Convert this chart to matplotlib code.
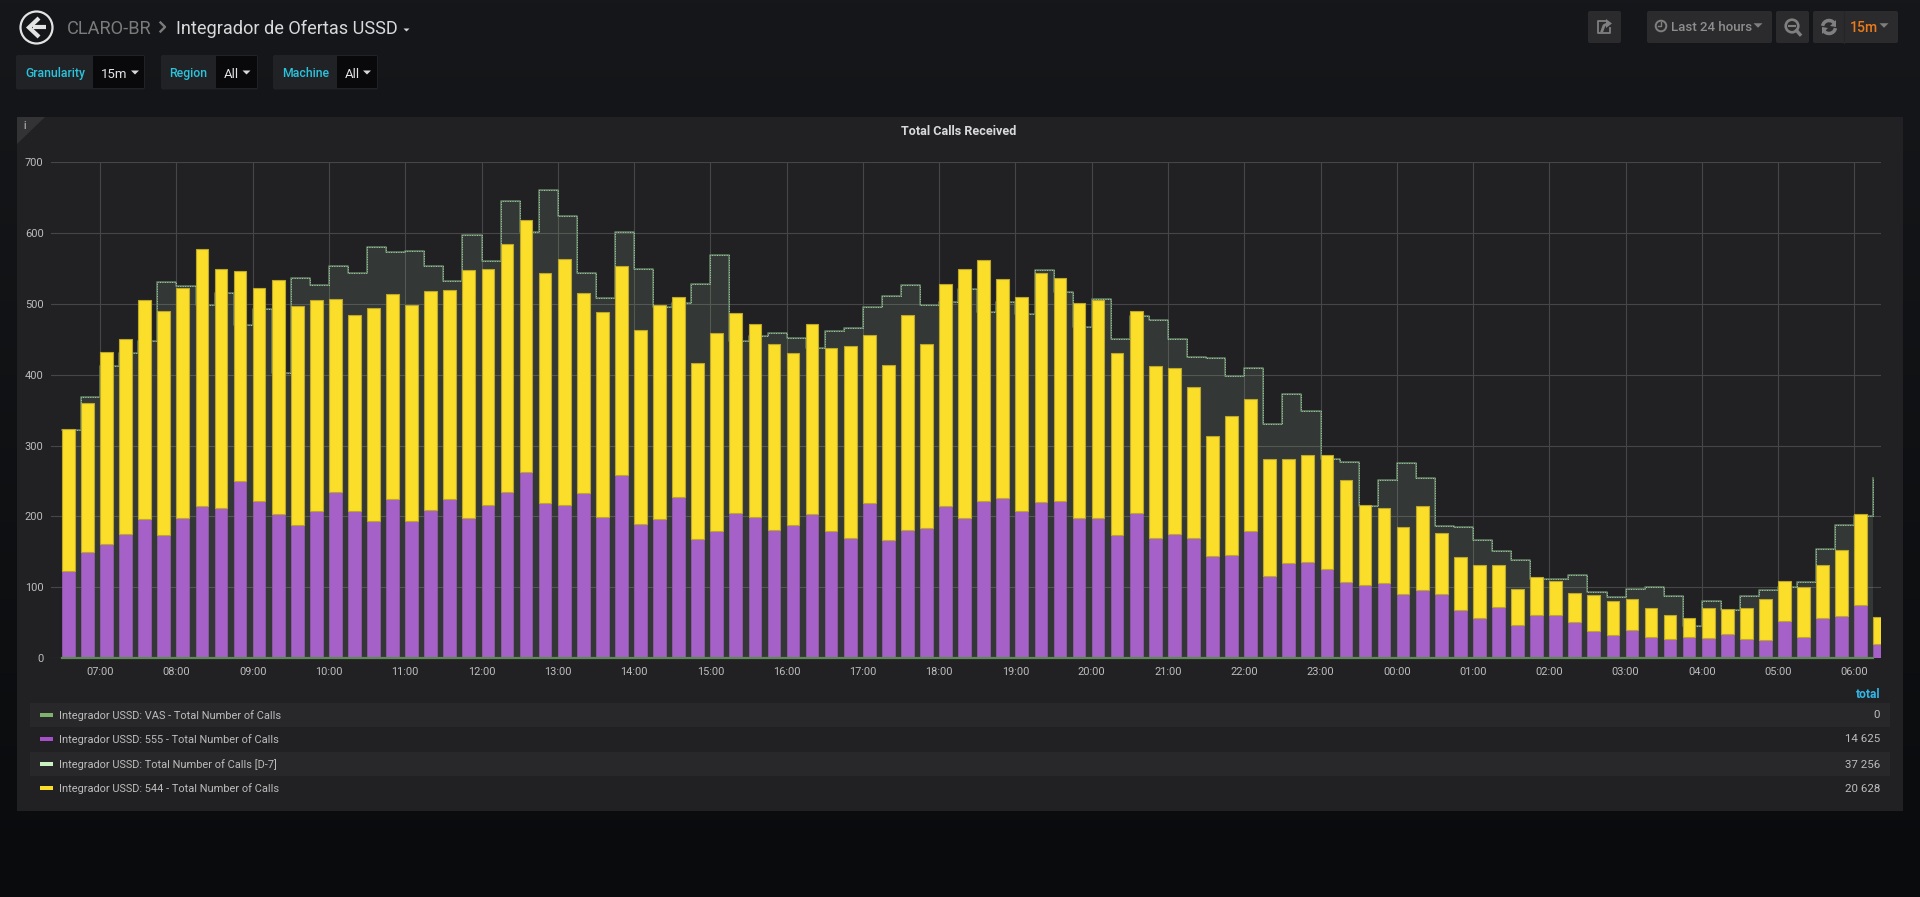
#!/usr/bin/env python

import numpy as np
import matplotlib
matplotlib.use("Agg")
import matplotlib.pyplot as plt
from matplotlib.patches import Rectangle, Circle, Polygon, FancyBboxPatch, Arc

# values, one per 15 minutes from 06:30
calls_555 = [123,150,161,175,196,173,198,215,212,250,222,203,188,207,234,207,193,225,194,209,225,198,216,235,
             262,219,216,233,199,259,189,196,228,168,179,205,199,181,188,203,179,170,219,166,181,184,214,198,
             222,226,207,220,221,198,198,173,205,170,175,170,144,146,179,116,134,135,125,108,103,106,91,96,
             91,68,57,72,46,61,61,51,38,33,39,30,27,29,28,34,27,26,52,30,57,59,75,20]
calls_544 = [201,210,271,275,310,317,325,362,337,297,301,330,309,298,273,277,301,289,304,309,294,350,333,349,
             356,324,347,283,289,294,274,302,281,248,280,282,273,263,243,268,258,271,237,247,303,259,314,351,
             340,309,302,323,315,303,307,257,285,242,234,212,170,196,186,165,147,152,161,144,113,106,94,119,
             86,75,75,60,51,53,48,41,51,47,45,40,34,28,43,35,43,58,57,70,75,93,129,38]
calls_d7 = [322,368,412,430,447,531,525,498,515,470,493,403,537,526,553,543,580,573,575,553,532,597,560,645,
            601,661,624,544,508,602,549,495,501,528,569,448,454,459,452,438,462,466,496,511,526,499,503,521,
            488,502,486,548,517,468,507,451,483,477,451,425,423,398,409,330,373,349,281,277,215,251,276,254,
            186,185,167,151,138,111,111,117,93,86,97,100,87,45,80,68,87,96,100,108,154,188,200,254]
calls_vas = [0] * 96

hour_ticks = list(range(7, 31))
hour_labels = ["07:00","08:00","09:00","10:00","11:00","12:00","13:00","14:00","15:00","16:00","17:00","18:00",
               "19:00","20:00","21:00","22:00","23:00","00:00","01:00","02:00","03:00","04:00","05:00","06:00"]
y_ticks = [0, 100, 200, 300, 400, 500, 600, 700]

legend_names = ["Integrador USSD: VAS - Total Number of Calls", "Integrador USSD: 555 - Total Number of Calls",
                "Integrador USSD: Total Number of Calls [D-7]", "Integrador USSD: 544 - Total Number of Calls"]
legend_totals = ["0", "14 625", "37 256", "20 628"]
legend_colors = ["#7eb26d", "#a54fc9", "#c8f2c2", "#fade2a"]

W, H = 1920, 897
plt.rcParams["font.family"] = ["Roboto", "DejaVu Sans"]
fig = plt.figure(figsize=(W / 100, H / 100), dpi=100)

# background layer in pixel coordinates, y going down
ui = fig.add_axes([0, 0, 1, 1], zorder=0)
ui.set_xlim(0, W)
ui.set_ylim(H, 0)
ui.axis("off")
top = np.array([0x15, 0x17, 0x1a]) / 255
bottom = np.array([0x0a, 0x0b, 0x0d]) / 255
grad = np.linspace(0, 1, 256)[:, None, None] * (bottom - top)[None, None, :] + top
ui.imshow(grad, extent=[0, W, H, 0], aspect="auto", zorder=0)


def box(x0, y0, x1, y1, color, z=1):
    ui.add_patch(Rectangle((x0, y0), x1 - x0, y1 - y0, fc=color, ec="none", zorder=z))


def rbox(x0, y0, x1, y1, color, z=1):
    ui.add_patch(FancyBboxPatch((x0 + 2, y0 + 2), x1 - x0 - 4, y1 - y0 - 4, boxstyle="round,pad=2,rounding_size=2",
                                fc=color, ec="none", zorder=z))


def label(x, y, s, size, color, ha="left", weight="normal", z=5):
    ui.text(x, y, s, fontsize=size * 0.72, color=color, ha=ha, va="center_baseline", fontweight=weight, zorder=z)


def caret(x, y, color, w=3.5, h=3):
    ui.add_patch(Polygon([(x - w, y - h / 2), (x + w, y - h / 2), (x, y + h / 2)], fc=color, ec="none", zorder=5))


# header
ui.add_patch(Circle((36.5, 27.5), 16, fc="none", ec="#e3e3e3", lw=1.6, zorder=5))
ui.plot([46, 33], [27.5, 27.5], color="#e3e3e3", lw=3, zorder=5, solid_capstyle="butt")
ui.plot([37.5, 29, 37.5], [19.5, 27.5, 35.5], color="#e3e3e3", lw=3, zorder=5, solid_joinstyle="miter")
label(67, 26.5, "CLARO-BR", 18.3, "#7b7b7b")
ui.plot([160.5, 165, 160.5], [22.5, 27, 31.5], color="#7b7b7b", lw=1.7, zorder=5)
label(176, 26.5, "Integrador de Ofertas USSD", 18.2, "#d8d9da")
caret(406.5, 30, "#d8d9da", w=3, h=3)

# template variables
for x0, xm, x1, name, val, tx, vx, cx in [(16, 93, 145, "Granularity", "15m", 25, 101, 135),
                                          (161, 215.5, 258, "Region", "All", 169, 224, 246.5),
                                          (273, 337, 378, "Machine", "All", 282, 345, 367)]:
    rbox(x0, 55, x1, 89.5, "#202226")
    box(xm, 56, x1 - 1, 88.5, "#09090b", z=2)
    label(tx, 72, name, 12.3, "#2cc3dc", weight="medium")
    label(vx, 73, val, 13.2, "#e3e3e3")
    caret(cx, 72.5, "#d8d9da", w=4, h=4)

# toolbar
for x0, x1 in [(1588, 1621), (1647, 1772), (1776, 1809), (1813, 1898)]:
    rbox(x0, 11, x1, 43, "#2b2b2e")
ui.plot([1844, 1844], [11, 43], color="#262628", lw=1, zorder=3)
btn = "#7f7f7f"
ui.plot([1606, 1597.5, 1597.5, 1610, 1610], [21, 21, 33, 33, 28], color=btn, lw=1.3, zorder=5)
ui.plot([1602, 1604, 1608], [31, 25.5, 23.5], color=btn, lw=2, zorder=5)
ui.add_patch(Polygon([(1606, 19), (1612, 23.5), (1606, 28)], fc=btn, ec="none", zorder=5))
ui.add_patch(Circle((1661, 26), 5.3, fc="none", ec=btn, lw=1.4, zorder=5))
ui.plot([1661, 1661, 1658], [22.5, 26.5, 26.5], color=btn, lw=1, zorder=5)
label(1671, 26, "Last 24 hours", 13.3, "#8e8e8e", weight="medium")
caret(1758, 25.5, btn, w=4.5, h=4.5)
ui.add_patch(Circle((1792, 26), 6.3, fc="none", ec=btn, lw=1.9, zorder=5))
ui.plot([1789, 1795], [26, 26], color=btn, lw=1.5, zorder=5)
ui.plot([1796.5, 1800], [30.5, 34.5], color=btn, lw=2.4, zorder=5)
ui.add_patch(Arc((1829, 27), 13, 13, theta1=190, theta2=330, ec=btn, lw=2.5, zorder=5))
ui.add_patch(Arc((1829, 27), 13, 13, theta1=10, theta2=150, ec=btn, lw=2.5, zorder=5))
ui.add_patch(Polygon([(1836, 20), (1836, 27), (1830, 26)], fc=btn, ec="none", zorder=5))
ui.add_patch(Polygon([(1822, 34), (1822, 27), (1828, 28)], fc=btn, ec="none", zorder=5))
label(1850, 26, "15m", 14, "#eb7b18", weight="medium")
caret(1884, 25.5, btn, w=4.5, h=4.5)

# panel
box(17, 117, 1903, 811, "#212124")
ui.add_patch(Polygon([(17, 117), (45, 117), (17, 144)], fc="#333336", ec="none", zorder=2))
label(25, 125, "i", 10, "#9a9a9a", ha="center", weight="bold")
label(959, 130, "Total Calls Received", 12.6, "#d8d9da", ha="center", weight="bold")

# legend table
label(1880, 693, "total", 12, "#33b5e5", ha="right", weight="bold")
row_y = [715, 739, 764, 788]
for i, name in enumerate(legend_names):
    if i % 2 == 0:
        box(30, row_y[i] - 11.5, 1890, row_y[i] + 12.5, "#28282b")
    box(40, row_y[i] - 1.5, 53, row_y[i] + 2, legend_colors[i], z=3)
    label(59.3, row_y[i] - 0.5, name, 11, "#bcbcbc")
    label(1880, row_y[i] - 0.5, legend_totals[i], 11.5, "#bcbcbc", ha="right")

# the chart itself
ax_l, ax_r, ax_t, ax_b = 50.5, 1881, 162.2, 658
ax = fig.add_axes([ax_l / W, 1 - ax_b / H, (ax_r - ax_l) / W, (ax_b - ax_t) / H], zorder=1)
ax.patch.set_alpha(0)
for s in ax.spines.values():
    s.set_visible(False)

hours = 6.5 + 0.25 * np.arange(len(calls_555))
bar_w = 1 / 6
ax.fill_between(hours, calls_d7, step="post", color="#c8f2c2", alpha=0.11, lw=0, zorder=2)
ax.bar(hours, calls_555, width=bar_w, align="edge", color="#a561c8", edgecolor="#8f5aa8", lw=0.6, zorder=3)
ax.bar(hours, calls_544, width=bar_w, align="edge", bottom=calls_555, color="#fade2a", edgecolor="#bda72a",
       lw=0.8, zorder=3)
ax.step(hours, calls_d7, where="post", color="#5f7a62", lw=1.2, zorder=2.5)
ax.step(hours, calls_d7, where="post", color="#c8f2c2", lw=0.7, ls=(0, (1, 1.5)), alpha=0.7, zorder=2.6)
ax.step(hours, calls_vas, where="post", color="#5f8a55", lw=1.6, zorder=4, clip_on=False)

ax.set_xlim(6.348, 30.349)
ax.set_ylim(0, 700)
ax.set_xticks(hour_ticks)
ax.set_xticklabels(hour_labels)
ax.set_yticks(y_ticks)
ax.tick_params(length=0, labelsize=7.9, colors="#bdbdbd")
ax.tick_params(axis="x", pad=6.5)
ax.tick_params(axis="y", pad=5)
ax.grid(True, color="#464648", lw=0.8, zorder=1)
ax.set_axisbelow(True)

plt.savefig("out.png", dpi=100)
